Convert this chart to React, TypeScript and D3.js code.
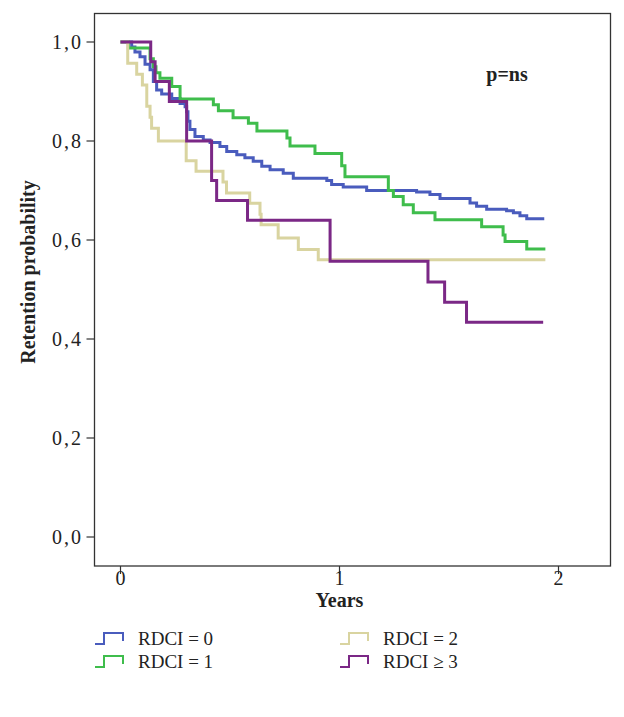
import React from "react";
import * as d3 from "d3";

const xTicks = [0, 1, 2];
const yTicks = [0, 0.2, 0.4, 0.6, 0.8, 1.0];
const yTickLabels = ["0,0", "0,2", "0,4", "0,6", "0,8", "1,0"];

const seriesNames = ["RDCI = 0", "RDCI = 1", "RDCI = 2", "RDCI \u2265 3"];
const seriesColors = ["#4a5cbd", "#3fbd4c", "#d9d4a0", "#7b2886"];

// [time (years), survival]
const rdci0: [number, number][] = [
  [0, 1.0], [0.051, 0.99], [0.066, 0.98], [0.089, 0.97], [0.112, 0.955], [0.135, 0.944],
  [0.15, 0.92], [0.165, 0.903], [0.188, 0.895], [0.234, 0.886], [0.272, 0.876],
  [0.295, 0.869], [0.302, 0.859], [0.308, 0.84], [0.317, 0.823], [0.34, 0.809],
  [0.378, 0.802], [0.409, 0.797], [0.454, 0.789], [0.485, 0.779], [0.531, 0.772],
  [0.568, 0.766], [0.606, 0.759], [0.645, 0.749], [0.683, 0.742], [0.743, 0.735],
  [0.789, 0.725], [0.942, 0.72], [0.964, 0.712], [1.017, 0.707], [1.124, 0.70],
  [1.352, 0.697], [1.413, 0.692], [1.459, 0.684], [1.596, 0.675], [1.626, 0.668],
  [1.672, 0.662], [1.763, 0.659], [1.794, 0.655], [1.824, 0.649], [1.855, 0.643],
  [1.935, 0.643],
];
const rdci1: [number, number][] = [
  [0, 1.0], [0.036, 0.988], [0.135, 0.966], [0.15, 0.95], [0.162, 0.938], [0.18, 0.927],
  [0.234, 0.91], [0.272, 0.885], [0.424, 0.873], [0.447, 0.861], [0.514, 0.847],
  [0.584, 0.836], [0.623, 0.82], [0.76, 0.806], [0.774, 0.79], [0.888, 0.775],
  [1.01, 0.75], [1.025, 0.728], [1.223, 0.70], [1.246, 0.688], [1.291, 0.671],
  [1.337, 0.655], [1.436, 0.641], [1.649, 0.627], [1.747, 0.61], [1.756, 0.597],
  [1.855, 0.582], [1.94, 0.582],
];
const rdci2: [number, number][] = [
  [0, 1.0], [0.033, 0.957], [0.074, 0.935], [0.1, 0.913], [0.12, 0.87], [0.135, 0.848],
  [0.142, 0.826], [0.173, 0.80], [0.30, 0.76], [0.345, 0.739], [0.468, 0.717],
  [0.484, 0.695], [0.59, 0.674], [0.637, 0.652], [0.642, 0.631], [0.72, 0.604],
  [0.812, 0.581], [0.903, 0.56], [1.94, 0.56],
];
const rdci3: [number, number][] = [
  [0, 1.0], [0.138, 0.96], [0.158, 0.92], [0.223, 0.88], [0.302, 0.80], [0.416, 0.72],
  [0.439, 0.68], [0.58, 0.64], [0.957, 0.557], [1.404, 0.515], [1.48, 0.474],
  [1.58, 0.434], [1.93, 0.434],
];
const allSeries = [rdci0, rdci1, rdci2, rdci3];

const W = 624;
const H = 717;
const frame = { left: 94.5, top: 13.5, right: 610.5, bottom: 566 };

export default function App() {
  const x = d3.scaleLinear().domain([0, 2]).range([120.5, 558.5]);
  const y = d3.scaleLinear().domain([0, 1]).range([537, 42]);
  const line = d3
    .line<[number, number]>()
    .x((d) => x(d[0]))
    .y((d) => y(d[1]))
    .curve(d3.curveStepAfter);

  const font = "'Liberation Serif', 'Times New Roman', serif";

  return (
    <svg
      width={W}
      height={H}
      style={{ position: "absolute", left: 0, top: 0, background: "#fff" }}
      fontFamily={font}
    >
      <rect x={0} y={0} width={W} height={H} fill="#fff" />
      <rect
        x={frame.left}
        y={frame.top}
        width={frame.right - frame.left}
        height={frame.bottom - frame.top}
        fill="none"
        stroke="#333"
        strokeWidth={1.3}
      />
      {yTicks.map((t, i) => (
        <g key={"y" + i}>
          <line x1={frame.left - 8} x2={frame.left} y1={y(t)} y2={y(t)} stroke="#333" strokeWidth={1.2} />
          <text x={83} y={y(t)} dy="0.35em" textAnchor="end" fontSize={20} letterSpacing={2} fill="#222">
            {yTickLabels[i]}
          </text>
        </g>
      ))}
      {xTicks.map((t) => (
        <g key={"x" + t}>
          <line x1={x(t)} x2={x(t)} y1={frame.bottom} y2={frame.bottom + 8} stroke="#333" strokeWidth={1.2} />
          <text x={x(t)} y={585} textAnchor="middle" fontSize={20} fill="#222">
            {t}
          </text>
        </g>
      ))}
      <text x={339.5} y={607} textAnchor="middle" fontSize={20} fontWeight="bold" fill="#222">
        Years
      </text>
      <text
        transform={`translate(35,${272}) rotate(-90)`}
        textAnchor="middle"
        fontSize={20}
        fontWeight="bold"
        fill="#222"
      >
        Retention probability
      </text>
      <text x={507} y={81} textAnchor="middle" fontSize={20} fontWeight="bold" fill="#222">
        p=ns
      </text>
      {allSeries.map((s, i) => (
        <path key={"s" + i} d={line(s) || ""} fill="none" stroke={seriesColors[i]} strokeWidth={3} />
      ))}
      {seriesNames.map((name, i) => {
        const col = i < 2 ? 0 : 1;
        const row = i % 2;
        const lx = col === 0 ? 95 : 340;
        const ly = row === 0 ? 638 : 661;
        return (
          <g key={"l" + i}>
            <path
              d={`M${lx},${ly + 6}H${lx + 9}V${ly - 5}H${lx + 28}V${ly + 3}`}
              fill="none"
              stroke={seriesColors[i]}
              strokeWidth={2}
            />
            <text x={lx + 43} y={ly} dy="0.35em" fontSize={19} fill="#222">
              {name}
            </text>
          </g>
        );
      })}
    </svg>
  );
}
